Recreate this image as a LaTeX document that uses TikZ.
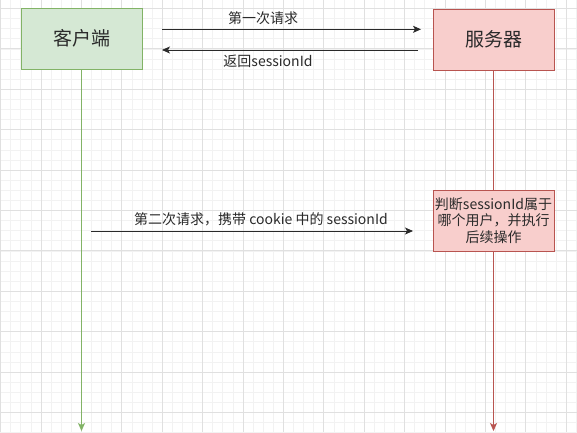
\documentclass[tikz,border=0pt]{standalone}
\usepackage{fontspec}
\newfontfamily\cjk{Noto Sans CJK SC}
\usetikzlibrary{arrows.meta,positioning}
\definecolor{cgreen}{HTML}{D5E8D4}
\definecolor{cgreenline}{HTML}{82B366}
\definecolor{cred}{HTML}{F8CECC}
\definecolor{credline}{HTML}{B85450}
\definecolor{ctext}{HTML}{2A2A2A}
\begin{document}
\begin{tikzpicture}[
  x=1pt, y=-1pt,
  every node/.style={font=\cjk, text=ctext, inner sep=1pt},
  actor/.style={rectangle, draw, line width=0.8pt, minimum width=121pt, minimum height=61pt, font=\cjk\fontsize{19}{22}\selectfont},
  client/.style={actor, fill=cgreen, draw=cgreenline},
  server/.style={actor, fill=cred, draw=credline},
  note/.style={server, font=\cjk\fontsize{14}{16.6}\selectfont, align=center},
  msg/.style={draw=ctext, line width=0.8pt, -{Stealth[length=8pt,width=7pt,inset=2pt]}},
  lifeline/.style={line width=0.8pt, -{Stealth[length=8pt,width=7pt,inset=2pt]}},
  msglabel/.style={font=\cjk\fontsize{14}{16}\selectfont},
  minorgrid/.style={draw=black!5, line width=0.4pt},
  majorgrid/.style={draw=black!12, line width=0.6pt}
]
\useasboundingbox[fill=white] (0,0) rectangle (577,432);
\foreach \i in {0,...,57} \draw[minorgrid] (0.4+10.1*\i,0) -- (0.4+10.1*\i,432);
\foreach \j in {0,...,43} \draw[minorgrid] (0,-1.8+10.1*\j) -- (577,-1.8+10.1*\j);
\foreach \i in {0,...,14} \draw[majorgrid] (0.4+40.4*\i,0) -- (0.4+40.4*\i,432);
\foreach \j in {0,...,10} \draw[majorgrid] (0,8.3+40.4*\j) -- (577,8.3+40.4*\j);

\node[client] (client) at (81.5,38.5) {客户端};
\node[server] (server) at (493.5,39.5) {服务器};
\node[note] (judge) at (493.5,220.5) {判断sessionId属于\\哪个用户，并执行\\后续操作};

\coordinate (clientend) at (81.5,431);
\coordinate (serverend) at (493.5,431);
\draw[lifeline, draw=cgreenline] (client) -- (clientend);
\draw[line width=0.8pt, draw=credline] (server) -- (judge);
\draw[lifeline, draw=credline] (judge) -- (serverend);

\coordinate (req1s) at (162,29.3);
\coordinate (req1e) at (421,29.3);
\coordinate (res1s) at (418,50);
\coordinate (res1e) at (162,50);
\coordinate (req2s) at (91,231);
\coordinate (req2e) at (413,231);
\draw[msg] (req1s) -- (req1e);
\draw[msg] (res1s) -- (res1e);
\draw[msg] (req2s) -- (req2e);
\node[msglabel] (req1label) at (263,18) {第一次请求};
\node[msglabel] (res1label) at (268,61) {返回sessionId};
\node[msglabel] (req2label) at (261,219) {第二次请求，携带 cookie 中的 sessionId};
\end{tikzpicture}
\end{document}
